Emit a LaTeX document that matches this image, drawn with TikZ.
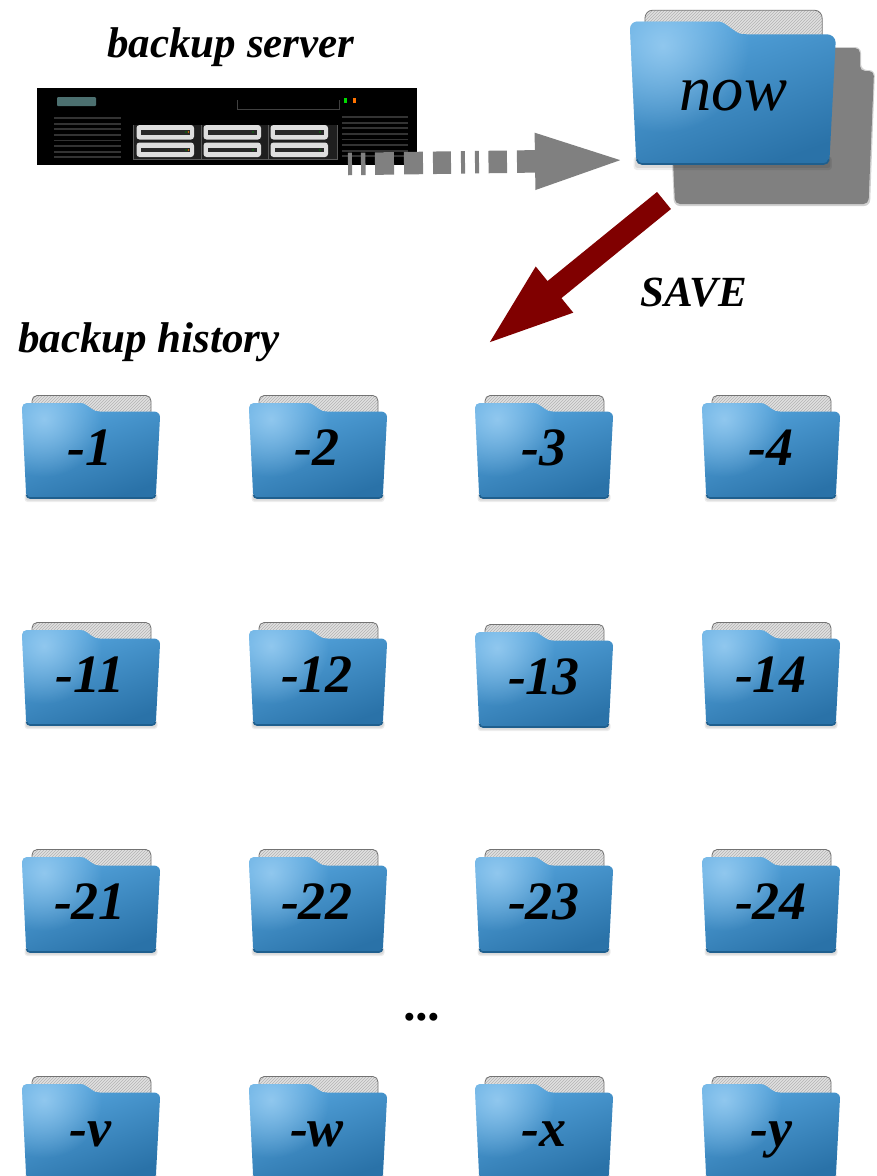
\documentclass[tikz,border=0pt]{standalone}
\usepackage{fontspec}
\setmainfont{Liberation Serif}
\usetikzlibrary{arrows.meta,patterns,fadings}
\definecolor{foldtop}{HTML}{A5D4F5}
\definecolor{foldhigh}{HTML}{55A5DE}
\definecolor{foldmid}{HTML}{4491CB}
\definecolor{foldbot}{HTML}{2A72A8}
\definecolor{foldedge}{HTML}{1F5F8E}
\definecolor{shadowgray}{HTML}{808080}
\definecolor{saveRed}{HTML}{800000}
\tikzfading[name=hlfade,inner color=transparent!25,outer color=transparent!100]
\tikzset{
  x=1pt,y=-1pt,
  bigtext/.style={font=\fontsize{43}{46}\selectfont\bfseries\itshape,inner sep=0pt,anchor=base},
  foldtext/.style={font=\fontsize{54}{56}\selectfont\bfseries\itshape,inner sep=0pt,anchor=base},
  nowtext/.style={font=\fontsize{64.5}{68}\selectfont\itshape,inner sep=0pt,anchor=base},
  vent/.style={draw=black!80,line width=1.8pt},
  drive/.style={fill=black!13,rounded corners=3pt},
  drivebar/.style={fill=black!84},
}
\newcommand{\backpath}{(10,22) -- (10,6) to[out=90,in=180] (15,0.5) -- (124,0.5) to[out=0,in=90] (129,6) -- (129,22) -- cycle}
\newcommand{\frontpath}{(0,13) to[out=90,in=180] (5,8) -- (58,8) to[out=0,in=140] (65,10.5) -- (70,14) to[out=-40,in=180] (78,16.5) -- (132,16.5) to[out=0,in=90] (138,22) -- (134,98) to[out=-90,in=0] (130,103) -- (8,103) to[out=180,in=-90] (4,98) -- cycle}
% \folderpic{x}{y}{xscale}{yscale}
\newcommand{\folderpic}[4]{%
  \begin{scope}[shift={(#1,#2)},xscale=#3,yscale=#4]
    \fill[black,opacity=.07,rounded corners=3pt] (2.5,98) rectangle (135.5,107);
    \fill[black,opacity=.08,rounded corners=2pt] (3.5,98) rectangle (134.5,105.5);
    \fill[black!12] \backpath;
    \fill[pattern=north east lines,pattern color=black!30] \backpath;
    \draw[black!55,line width=.8pt] (10,22) -- (10,6) to[out=90,in=180] (15,0.5) -- (124,0.5) to[out=0,in=90] (129,6) -- (129,22);
    \shade[top color=foldhigh,middle color=foldmid,bottom color=foldbot,shading angle=20] \frontpath;
    \begin{scope}
      \clip \frontpath;
      \fill[foldtop,path fading=hlfade] (22,24) circle (58);
    \end{scope}
    \draw[foldedge,line width=1.6pt] (4.5,100) to[out=-80,in=180] (8,103) -- (130,103) to[out=0,in=-100] (133.5,100);
  \end{scope}}
\newcommand{\driveunit}[2]{%
  \fill[drive] (#1,#2) rectangle ++(57.5,14.5);
  \fill[drivebar] (#1+4,#2+5) rectangle ++(49,4.5);
}
\begin{document}
\begin{tikzpicture}
\clip (0,0) rectangle (876,1176);
\fill[white] (0,0) rectangle (876,1176);

% shadow of the now folder
\fill[shadowgray!60,opacity=.6,rounded corners=6pt] (672,160) -- (700,47) -- (861,47) -- (861,70) -- (875,70) -- (870,206) -- (674,206) -- cycle;
\fill[shadowgray,rounded corners=5pt] (673,160) -- (700,48) -- (860,48) -- (860,71) -- (874,71) -- (868.5,204) -- (675,204) -- cycle;
\folderpic{630}{9.5}{1.49}{1.50}
\node[nowtext] (now) at (733.5,110) {now};

% server
\node[fill=black,minimum width=380pt,minimum height=77pt,inner sep=0pt,outer sep=0pt] (server) at (227,126.5) {};
\fill[fill=black!60!teal!70!white,rounded corners=1pt] (57,97) rectangle (96,106);
\draw[black!75,line width=.9pt] (237.5,100) -- (237.5,109) -- (339,109) -- (339,100);
\fill[green!85!black] (343.5,98) rectangle (346.5,103);
\fill[orange!90!red] (353,98) rectangle (356,103);
\foreach \i in {0,...,7} {
  \draw[vent] (54,118+5.6*\i) -- (121,118+5.6*\i);
  \draw[vent] (342,117+5.6*\i) -- (408,117+5.6*\i);
}
\fill[black!88] (133,125) rectangle (337,159.5);
\draw[black!65,line width=.9pt] (133,125) -- (133,159.5) -- (337,159.5) -- (337,125);
\draw[black!65,line width=.9pt] (201.5,125) -- (201.5,159.5) (268,125) -- (268,159.5);
\foreach \x in {136.5,203.5,270.5} {
  \driveunit{\x}{125}
  \driveunit{\x}{142.5}
}
\foreach \x/\y in {186/132,186/150,253/132,253/150,320/132,320/150} {
  \fill[green!50!black] (\x,\y) circle (.9pt);
}
\fill[orange!90!black] (188.5,132) circle (.9pt);
\fill[orange!90!black] (188.5,150) circle (.9pt);

% dashed grey arrow
\coordinate (dashstart) at (348,164);
\coordinate (dashend) at (630,160);
\draw[shadowgray,line width=22.5pt,
  dash pattern=on 4pt off 9pt on 4.5pt off 9.5pt on 19pt off 10pt on 19pt off 10pt on 18pt off 10pt on 4pt off 10pt on 4pt off 9.5pt on 18.5pt off 10pt on 40pt off 0pt,
  -{Triangle[length=95pt,width=49pt]}] (dashstart) -- (dashend);

% red arrow
\coordinate (savestart) at (664,200.5);
\coordinate (saveend) at (483.9,347);
\draw[saveRed,line width=22pt,-{Triangle[length=91pt,width=51.5pt]}] (savestart) -- (saveend);

% texts
\node[bigtext] (serverlabel) at (231,57) {backup server};
\node[bigtext] (savelabel) at (693.5,306) {SAVE};
\node[bigtext] (historylabel) at (149,352) {backup history};

% folders
\foreach \fx/\fy/\tx/\ty/\lab [count=\n] in {
  22/395/90/465/-1, 249/395/317/465/-2, 475/395/544/465/-3, 702/395/771/465/-4,
  22/622/90/692/-11, 249/622/317/692/-12, 475/624/544/694/-13, 702/622/771/692/-14,
  22/849/90/919/-21, 249/849/317/919/-22, 475/849/544/919/-23, 702/849/771/919/-24,
  22/1076/90/1146/-v, 249/1076/317/1146/-w, 475/1076/544/1146/-x, 702/1076/771/1146/-y} {
  \folderpic{\fx}{\fy}{1}{1}
  \node[foldtext] (lab\n) at (\tx,\ty) {\lab};
}
\node[bigtext,font=\fontsize{49}{50}\selectfont\bfseries\itshape] (dots) at (423.5,1020) {...};
\end{tikzpicture}
\end{document}
